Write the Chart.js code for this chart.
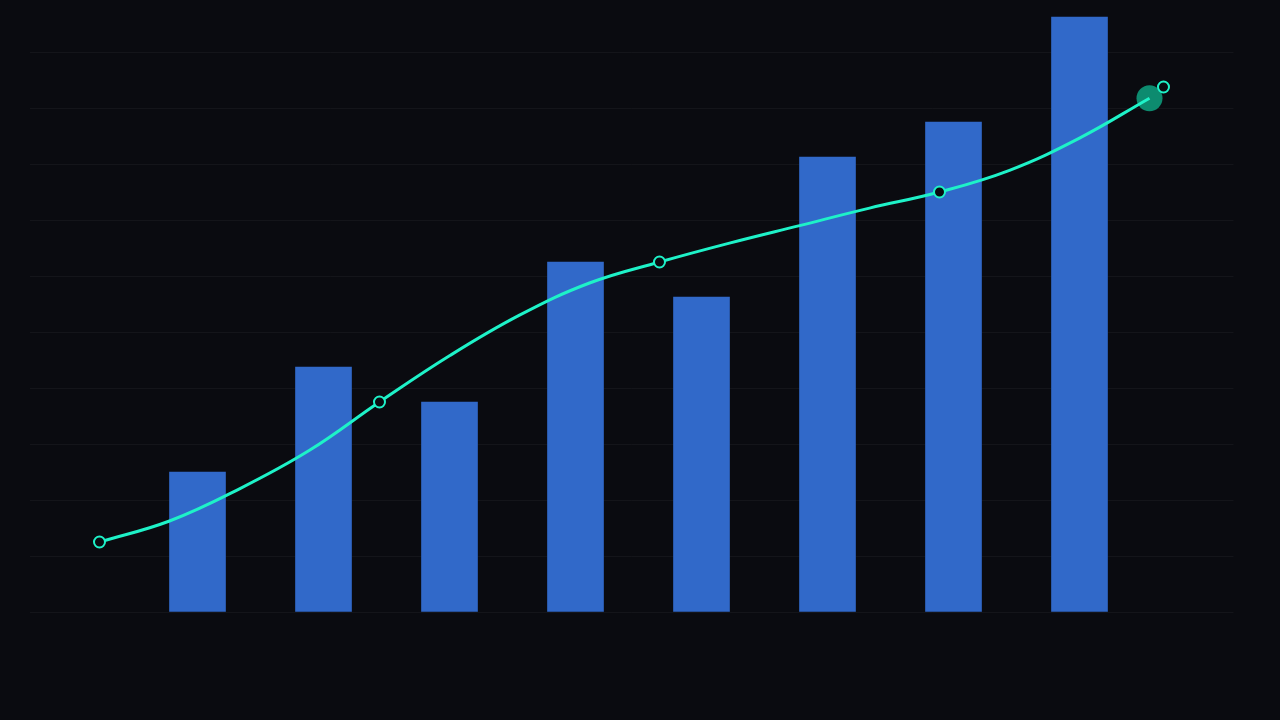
<!DOCTYPE html>
<html>
<head>
<meta charset="utf-8">
<script src="https://cdn.jsdelivr.net/npm/chart.js@4/dist/chart.umd.min.js"></script>
<style>
  html, body { margin: 0; padding: 0; background: #0a0b10; }
  #wrap { width: 1280px; height: 720px; }
</style>
</head>
<body>
<div id="wrap"><canvas id="combo"></canvas></div>
<script>
// bars
const barX = [12, 21, 30, 39, 48, 57, 66, 75];
const barValues = [20, 35, 30, 50, 45, 65, 70, 85];

// trend line (every 5 units, markers on every 4th)
const lineX = [5, 10, 15, 20, 25, 30, 35, 40, 45, 50, 55, 60, 65, 70, 75, 80];
const lineValues = [10, 13, 17.6, 23.1, 30, 36.6, 42.4, 47, 50, 52.7, 55.2, 57.7, 60, 63.1, 67.7, 73.4];
const markedX = [5, 25, 45, 65];

// end markers
const markerX = [80];
const markerValues = [73.4];
const openX = [81];
const openValues = [75];

const yStep = 8;

const toPoints = (xs, ys) => xs.map((x, i) => ({ x: x, y: ys[i] }));

const ctx = document.getElementById("combo");

new Chart(ctx, {
  data: {
    datasets: [
      {
        type: "line",
        data: toPoints(lineX, lineValues),
        borderColor: "#1ef2c8",
        borderWidth: 3,
        tension: 0.4,
        pointRadius: lineX.map(x => markedX.includes(x) ? 5.5 : 0),
        pointBackgroundColor: "#0a0b10",
        pointBorderColor: "#1ef2c8",
        pointBorderWidth: 2,
        order: 0
      },
      {
        type: "scatter",
        data: toPoints(openX, openValues),
        pointRadius: 5.5,
        pointBackgroundColor: "#0a0b10",
        pointBorderColor: "#1ef2c8",
        pointBorderWidth: 2,
        order: 1
      },
      {
        type: "scatter",
        data: toPoints(markerX, markerValues),
        pointRadius: 13,
        pointBackgroundColor: "#0d8b6f",
        pointBorderWidth: 0,
        order: 2
      },
      {
        type: "bar",
        data: toPoints(barX, barValues),
        backgroundColor: "#3169c9",
        barThickness: 56,
        order: 3
      }
    ]
  },
  options: {
    responsive: true,
    maintainAspectRatio: false,
    animation: false,
    layout: {
      autoPadding: false,
      padding: { left: 29.5, right: 46.5, top: 0, bottom: 108 }
    },
    plugins: {
      legend: { display: false },
      tooltip: { enabled: false }
    },
    scales: {
      x: {
        type: "linear",
        min: 0,
        max: 86,
        offset: false,
        display: false
      },
      y: {
        min: 0,
        max: 612 / 7,
        ticks: { display: false, stepSize: yStep },
        border: { display: false },
        grid: { color: "rgba(255,255,255,0.045)", drawTicks: false },
        afterBuildTicks: axis => {
          axis.ticks = axis.ticks.filter(t => t.value % yStep === 0);
        },
        afterFit: axis => { axis.width = 0; }
      }
    }
  }
});
</script>
</body>
</html>
